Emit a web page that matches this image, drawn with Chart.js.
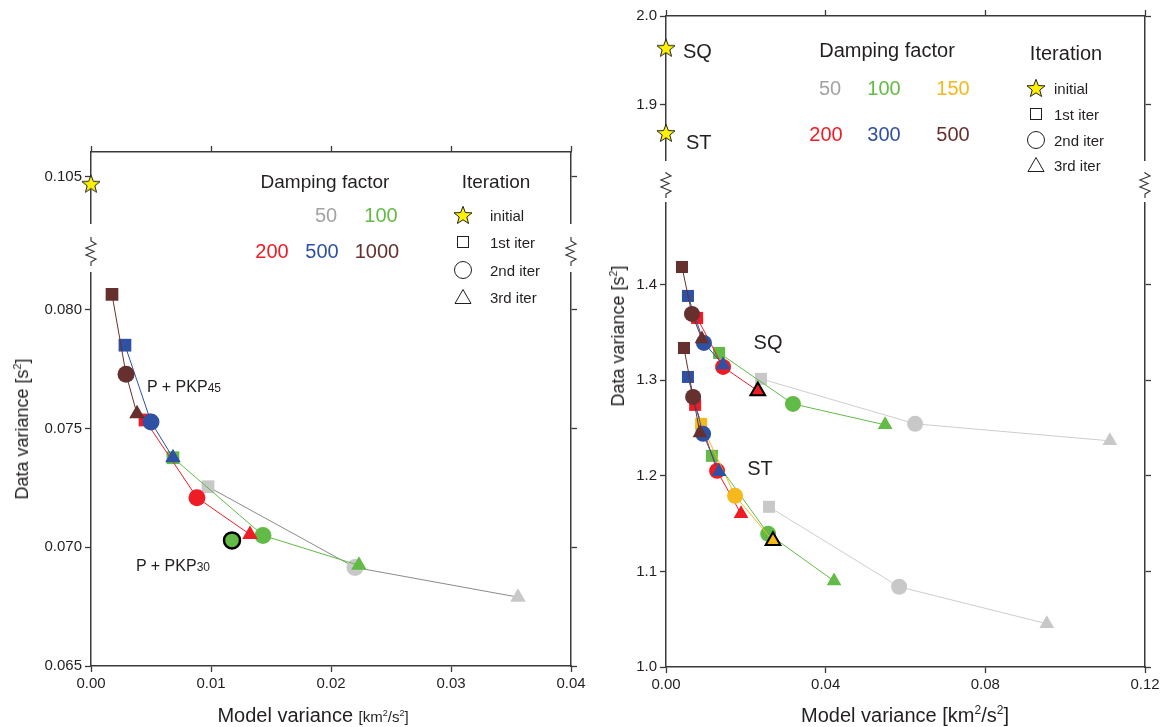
<!DOCTYPE html>
<html>
<head>
<meta charset="utf-8">
<script src="https://cdn.jsdelivr.net/npm/chart.js@4.4.0/dist/chart.umd.min.js"></script>
<style>
  body { margin: 0; width: 1166px; height: 727px; position: relative; overflow: hidden; background: #fff;
         font-family: 'Liberation Sans', Arial, sans-serif; color: #231f20; }
  .box { position: absolute; }
  .t { position: absolute; white-space: nowrap; line-height: 1; }
  .c { transform: translate(-50%, -50%); }
  .l { transform: translateY(-50%); }
  .r { transform: translate(-100%, -50%); }
  .v { transform: translate(-50%, -50%) rotate(-90deg); }
  sup { font-size: 0.6em; vertical-align: 0.65em; line-height: 0; }
  .ico { position: absolute; transform: translate(-50%, -50%); }
</style>
</head>
<body>
<div class="box" style="left:0;top:140px"><canvas id="leftTop" width="600" height="95"></canvas></div>
<div class="box" style="left:0;top:235px"><canvas id="leftLow" width="600" height="492"></canvas></div>
<div class="box" style="left:600px;top:0"><canvas id="rightTop" width="566" height="172"></canvas></div>
<div class="box" style="left:600px;top:172px"><canvas id="rightLow" width="566" height="555"></canvas></div>

<!-- left panel texts -->
<div class="t v" style="left:22px;top:429px;font-size:18px">Data variance [s<sup>2</sup>]</div>
<div class="t c" style="left:313px;top:715px;font-size:20px">Model variance <span style="font-size:15px">[km<sup>2</sup>/s<sup>2</sup>]</span></div>
<div class="t c" style="left:325px;top:181px;font-size:19px">Damping factor</div>
<div class="t c" style="left:326px;top:215px;font-size:20px;color:#a3a3a3">50</div>
<div class="t c" style="left:381px;top:215px;font-size:20px;color:#62bb46">100</div>
<div class="t c" style="left:272px;top:251px;font-size:20px;color:#ee1c25">200</div>
<div class="t c" style="left:322px;top:251px;font-size:20px;color:#2f51a3">500</div>
<div class="t c" style="left:377px;top:251px;font-size:20px;color:#66302e">1000</div>
<div class="t c" style="left:496px;top:181px;font-size:19px">Iteration</div>
<div class="t l" style="left:490px;top:215px;font-size:15px">initial</div>
<div class="t l" style="left:490px;top:242px;font-size:15px">1st iter</div>
<div class="t l" style="left:490px;top:270px;font-size:15px">2nd iter</div>
<div class="t l" style="left:490px;top:297px;font-size:15px">3rd iter</div>
<div class="t l" style="left:147px;top:387px;font-size:16px">P + PKP<span style="font-size:12px">45</span></div>
<div class="t l" style="left:136px;top:566px;font-size:16px">P + PKP<span style="font-size:12px">30</span></div>

<!-- right panel texts -->
<div class="t v" style="left:618px;top:336px;font-size:18px">Data variance [s<sup>2</sup>]</div>
<div class="t c" style="left:905px;top:715px;font-size:20px">Model variance [km<sup>2</sup>/s<sup>2</sup>]</div>
<div class="t l" style="left:683px;top:51px;font-size:20px">SQ</div>
<div class="t l" style="left:686px;top:142px;font-size:20px">ST</div>
<div class="t c" style="left:887px;top:50px;font-size:20px">Damping factor</div>
<div class="t c" style="left:830px;top:88px;font-size:20px;color:#a3a3a3">50</div>
<div class="t c" style="left:884px;top:88px;font-size:20px;color:#62bb46">100</div>
<div class="t c" style="left:953px;top:88px;font-size:20px;color:#f6b91d">150</div>
<div class="t c" style="left:826px;top:134px;font-size:20px;color:#ee1c25">200</div>
<div class="t c" style="left:884px;top:134px;font-size:20px;color:#2f51a3">300</div>
<div class="t c" style="left:953px;top:134px;font-size:20px;color:#66302e">500</div>
<div class="t c" style="left:1066px;top:53px;font-size:20px">Iteration</div>
<div class="t l" style="left:1054px;top:88px;font-size:15px">initial</div>
<div class="t l" style="left:1054px;top:114px;font-size:15px">1st iter</div>
<div class="t l" style="left:1054px;top:140px;font-size:15px">2nd iter</div>
<div class="t l" style="left:1054px;top:165px;font-size:15px">3rd iter</div>
<div class="t c" style="left:768px;top:342px;font-size:20px">SQ</div>
<div class="t c" style="left:760px;top:468px;font-size:20px">ST</div>

<!-- iteration legend symbols -->
<svg class="ico" style="left:463px;top:215px" width="22" height="22"><polygon id="starShape" points="" fill="#fff200" stroke="#231f20" stroke-width="1"/></svg>
<svg class="ico" style="left:463px;top:242px" width="16" height="16"><rect x="2.5" y="2.5" width="11" height="11" fill="none" stroke="#231f20"/></svg>
<svg class="ico" style="left:463px;top:270px" width="22" height="22"><circle cx="11" cy="11" r="8.5" fill="none" stroke="#231f20"/></svg>
<svg class="ico" style="left:463px;top:297px" width="20" height="20"><polygon points="10,2.5 18,16.5 2,16.5" fill="none" stroke="#231f20"/></svg>
<svg class="ico" style="left:1036px;top:88px" width="22" height="22"><polygon class="star" points="" fill="#fff200" stroke="#231f20" stroke-width="1"/></svg>
<svg class="ico" style="left:1036px;top:114px" width="16" height="16"><rect x="2.5" y="2.5" width="11" height="11" fill="none" stroke="#231f20"/></svg>
<svg class="ico" style="left:1036px;top:140px" width="22" height="22"><circle cx="11" cy="11" r="8.5" fill="none" stroke="#231f20"/></svg>
<svg class="ico" style="left:1036px;top:165px" width="20" height="20"><polygon points="10,2.5 18,16.5 2,16.5" fill="none" stroke="#231f20"/></svg>

<script>
// ---- tick values ----
const leftTicksX = [0, 0.01, 0.02, 0.03, 0.04];
const leftTicksYLow = [0.065, 0.070, 0.075, 0.080];
const leftTicksYHigh = [0.105];
const rightTicksX = [0, 0.04, 0.08, 0.12];
const rightTicksYLow = [1.0, 1.1, 1.2, 1.3, 1.4];
const rightTicksYHigh = [1.9, 2.0];

// ---- left panel (P + PKP), points = 1st, 2nd, 3rd iteration ----
const left1000X = [0.00175, 0.00292, 0.00383];
const left1000Y = [0.08065, 0.07729, 0.07562];
const left500X = [0.00283, 0.00500, 0.00683];
const left500Y = [0.07851, 0.07528, 0.07377];
const left200X = [0.00450, 0.00883, 0.01325];
const left200Y = [0.07536, 0.07209, 0.07054];
const left100X = [0.00683, 0.01433, 0.02233];
const left100Y = [0.07377, 0.07050, 0.06924];
const left50X = [0.00975, 0.02200, 0.03558];
const left50Y = [0.07255, 0.06915, 0.06790];
const leftInitX = [0];
const leftInitY = [0.10466];
const leftPickX = [0.01175];   // P + PKP30 model
const leftPickY = [0.07029];

// ---- right panel, SQ group ----
const sq500X = [0.0040, 0.0065, 0.0090];
const sq500Y = [1.4183, 1.3692, 1.3430];
const sq300X = [0.0055, 0.0095, 0.0143];
const sq300Y = [1.3880, 1.3389, 1.3159];
const sq200X = [0.0078, 0.0143, 0.0230];
const sq200Y = [1.3650, 1.3138, 1.2887];
const sq100X = [0.0133, 0.0318, 0.0549];
const sq100Y = [1.3284, 1.2751, 1.2532];
const sq50X = [0.0238, 0.0624, 0.1112];
const sq50Y = [1.3013, 1.2543, 1.2365];

// ---- right panel, ST group ----
const st500X = [0.0045, 0.0068, 0.0085];
const st500Y = [1.3336, 1.2824, 1.2448];
const st300X = [0.0055, 0.0093, 0.0133];
const st300Y = [1.3033, 1.2438, 1.2041];
const st200X = [0.0073, 0.0128, 0.0188];
const st200Y = [1.2741, 1.2051, 1.1602];
const st150X = [0.0088, 0.0173, 0.0268];
const st150Y = [1.2542, 1.1790, 1.1320];
const st100X = [0.0115, 0.0256, 0.0421];
const st100Y = [1.2208, 1.1393, 1.0899];
const st50X = [0.0258, 0.0584, 0.0954];
const st50Y = [1.1675, 1.0839, 1.0452];
const rightInitX = [0, 0];        // SQ, ST
const rightInitY = [1.9642, 1.8684];

// ---- styles ----
const cGray = '#c8c8c8', cGreen = '#62bb46', cOrange = '#f6b91d';
const cRed = '#ee1c25', cBlue = '#2f51a3', cBrown = '#66302e';
const axisColor = '#3a3a3a', textColor = '#231f20';
const tickFont = { family: "'Liberation Sans', Arial, sans-serif", size: 15 };
const iterStyles = ['rect', 'circle', 'triangle'];

function starPoints(cx, cy, R) {
  const pts = [];
  for (let i = 0; i < 10; i++) {
    const a = -Math.PI / 2 + i * Math.PI / 5;
    const rr = i % 2 ? R * 0.42 : R;
    pts.push((cx + rr * Math.cos(a)).toFixed(2) + ',' + (cy + rr * Math.sin(a)).toFixed(2));
  }
  return pts;
}
document.querySelectorAll('#starShape, .star').forEach(p => p.setAttribute('points', starPoints(11, 11.8, 9.5).join(' ')));

// star marker as a canvas point style
function makeStar(size) {
  const c = document.createElement('canvas');
  c.width = c.height = size;
  const g = c.getContext('2d');
  g.beginPath();
  starPoints(size / 2, size / 2 + 0.8, size / 2 - 1.5).forEach(p => {
    const [x, y] = p.split(',').map(Number);
    g.lineTo(x, y);
  });
  g.closePath();
  g.fillStyle = '#fff200';
  g.fill();
  g.lineWidth = 1;
  g.strokeStyle = textColor;
  g.stroke();
  return c;
}
const starStyle = makeStar(22);

function pts(xs, ys) {
  return xs.map((x, i) => ({ x, y: ys[i] }));
}

function series(xs, ys, color, lineColor, radii, highlight) {
  return {
    data: pts(xs, ys),
    showLine: true,
    borderColor: lineColor || color,
    borderWidth: 1,
    pointStyle: iterStyles,
    pointRadius: radii,
    pointBackgroundColor: color,
    pointBorderColor: '#000',
    pointBorderWidth: highlight ? [0, 0, 2] : 0,
    clip: false
  };
}

function stars(xs, ys) {
  return { data: pts(xs, ys), pointStyle: starStyle, pointRadius: 10, showLine: false, clip: false };
}

function axis(pos, min, max, ticks, labels, size, digits) {
  const horiz = pos === 'top' || pos === 'bottom';
  return {
    type: 'linear', position: pos, min, max,
    afterBuildTicks: s => { s.ticks = ticks.map(v => ({ value: v })); },
    afterFit: s => { if (horiz) s.height = size; else s.width = size; },
    grid: { drawOnChartArea: false, tickLength: 6, color: axisColor, tickWidth: 1.3 },
    border: { color: axisColor, width: 1.5 },
    ticks: { display: labels, autoSkip: false, maxRotation: 0, padding: 3, font: tickFont, color: textColor,
             callback: v => v.toFixed(digits) }
  };
}

// zigzag break marks above the lower section
const breakPlugin = {
  id: 'breakMarks',
  afterDraw(chart, args, opts) {
    const { ctx, chartArea } = chart;
    const y0 = chartArea.top - opts.gap - 21;
    ctx.save();
    ctx.strokeStyle = axisColor;
    ctx.lineWidth = 1.2;
    [chartArea.left, chartArea.right].forEach(x => {
      ctx.beginPath();
      ctx.moveTo(x, y0 - 4);
      ctx.lineTo(x, y0);
      ctx.lineTo(x + 5, y0 + 3);
      ctx.lineTo(x - 5, y0 + 7);
      ctx.lineTo(x + 3, y0 + 10.5);
      ctx.lineTo(x - 5, y0 + 14);
      ctx.lineTo(x + 5, y0 + 18);
      ctx.lineTo(x, y0 + 21);
      ctx.lineTo(x, y0 + 25);
      ctx.stroke();
    });
    ctx.restore();
  }
};

function makeChart(id, datasets, scales, padding, breaks) {
  return new Chart(document.getElementById(id), {
    type: 'scatter',
    data: { datasets },
    options: {
      responsive: false,
      animation: false,
      events: [],
      layout: { padding, autoPadding: false },
      plugins: { legend: { display: false }, tooltip: { enabled: false }, breakMarks: breaks || false },
      scales
    },
    plugins: breaks ? [breakPlugin] : []
  });
}

// ---- left panel ----
const rL = [9, 8.5, 9];
makeChart('leftTop', [stars(leftInitX, leftInitY)], {
  x: axis('top', 0, 0.04, leftTicksX, false, 10, 2),
  y: axis('left', 0.10273, 0.10622, leftTicksYHigh, true, 91, 3),
  y2: axis('right', 0.10273, 0.10622, leftTicksYHigh, false, 29, 3)
}, { top: 0, bottom: 2, left: 0, right: 0 });

makeChart('leftLow', [
  { data: pts(leftPickX, leftPickY), pointStyle: 'circle', pointRadius: 8, pointBackgroundColor: cGreen,
    pointBorderColor: '#000', pointBorderWidth: 2.5, showLine: false, clip: false },
  series(left1000X, left1000Y, cBrown, null, rL),
  series(left500X, left500Y, cBlue, null, rL),
  series(left200X, left200Y, cRed, null, rL),
  series(left100X, left100Y, cGreen, null, rL),
  series(left50X, left50Y, cGray, '#8a8a8a', rL)
], {
  x: axis('bottom', 0, 0.04, leftTicksX, true, 61, 2),
  y: axis('left', 0.065, 0.08155, leftTicksYLow, true, 91, 3),
  y2: axis('right', 0.065, 0.08155, leftTicksYLow, false, 29, 3)
}, { top: 38, bottom: 0, left: 0, right: 0 }, { gap: 11 });

// ---- right panel ----
const rR = [8.5, 8, 8.5];
makeChart('rightTop', [stars(rightInitX, rightInitY)], {
  x: axis('top', 0, 0.12, rightTicksX, false, 16, 2),
  y: axis('left', 1.8379, 2.0, rightTicksYHigh, true, 66, 1),
  y2: axis('right', 1.8379, 2.0, rightTicksYHigh, false, 21, 1)
}, { top: 0, bottom: 2, left: 0, right: 0 });

makeChart('rightLow', [
  series(sq500X, sq500Y, cBrown, null, rR),
  series(st500X, st500Y, cBrown, null, rR),
  series(sq300X, sq300Y, cBlue, null, rR),
  series(st300X, st300Y, cBlue, null, rR),
  series(st150X, st150Y, cOrange, null, rR, true),
  series(sq200X, sq200Y, cRed, null, rR, true),
  series(st200X, st200Y, cRed, null, rR),
  series(sq100X, sq100Y, cGreen, null, rR),
  series(st100X, st100Y, cGreen, null, rR),
  series(sq50X, sq50Y, cGray, '#cdcdcd', rR),
  series(st50X, st50Y, cGray, '#cdcdcd', rR)
], {
  x: axis('bottom', 0, 0.12, rightTicksX, true, 60, 2),
  y: axis('left', 1.0, 1.4852, rightTicksYLow, true, 66, 1),
  y2: axis('right', 1.0, 1.4852, rightTicksYLow, false, 21, 1)
}, { top: 31, bottom: 0, left: 0, right: 0 }, { gap: 9 });
</script>
</body>
</html>
